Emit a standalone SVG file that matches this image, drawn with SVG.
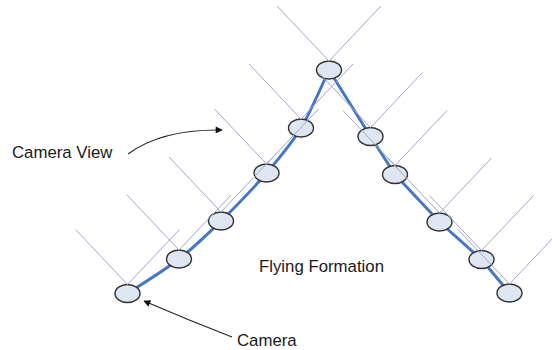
<svg xmlns="http://www.w3.org/2000/svg" width="552" height="350" viewBox="0 0 552 350">
<style>
.lbl{font-family:"Liberation Sans",Arial,sans-serif;font-size:16.8px;fill:#1a1a1a}
.node{fill:#dfe6f2;stroke:#333333;stroke-width:1.4}
.path{fill:none;stroke:#4677c6;stroke-width:3;stroke-linejoin:round;stroke-linecap:round}
.view{fill:none;stroke:#9fa6cc;stroke-width:1}
.ann{fill:none;stroke:#222;stroke-width:1.1}
</style>
<defs>
<marker id="ah" viewBox="0 0 10 10" refX="9" refY="5" markerWidth="9" markerHeight="7" markerUnits="userSpaceOnUse" orient="auto">
<path d="M0,0 L10,5 L0,10 z" fill="#111"/>
</marker>
</defs>
<rect width="552" height="350" fill="#ffffff"/>
<g id="connectors">
<path class="path" d="M127.5,293.5 C136.1,287.75 163.4,271.1 179,259 C194.6,246.9 206.4,235.3 221,221 C235.6,206.7 253.2,188.5 266.5,173 C279.8,157.5 290.6,145.2 301,128 C311.4,110.8 324.3,79.7 329,70"/>
<polyline class="path" points="329,70 370.5,136.5 395,174.5 439.5,222 481.5,259.5 509.5,293"/>
<path class="ann" d="M128,154 Q162,129 222,130" marker-end="url(#ah)"/>
<path class="ann" d="M232,337 Q188,320 144,301" marker-end="url(#ah)"/>
</g>
<g id="n-top"><ellipse class="node" cx="329" cy="70" rx="12.5" ry="9"/></g>
<g id="n-l1"><ellipse class="node" cx="301" cy="128" rx="12.5" ry="9"/></g>
<g id="n-l2"><ellipse class="node" cx="266.5" cy="173" rx="12.5" ry="9"/></g>
<g id="n-l3"><ellipse class="node" cx="221" cy="221" rx="12.5" ry="9"/></g>
<g id="n-l4"><ellipse class="node" cx="179" cy="259" rx="12.5" ry="9"/></g>
<g id="n-camera"><ellipse class="node" cx="127.5" cy="293.5" rx="12.5" ry="9"/></g>
<g id="n-r1"><ellipse class="node" cx="370.5" cy="136.5" rx="12.5" ry="9"/></g>
<g id="n-r2"><ellipse class="node" cx="395" cy="174.5" rx="12.5" ry="9"/></g>
<g id="n-r3"><ellipse class="node" cx="439.5" cy="222" rx="12.5" ry="9"/></g>
<g id="n-r4"><ellipse class="node" cx="481.5" cy="259.5" rx="12.5" ry="9"/></g>
<g id="n-r5"><ellipse class="node" cx="509.5" cy="293" rx="12.5" ry="9"/></g>
<g id="views">
<polyline class="view" points="277,6 329,61 381,6"/>
<polyline class="view" points="249,64 301,119 353,64"/>
<polyline class="view" points="214.5,109 266.5,164 318.5,109"/>
<polyline class="view" points="169,157 221,212 273,157"/>
<polyline class="view" points="127,195 179,250 231,195"/>
<polyline class="view" points="75.5,229.5 127.5,284.5 179.5,229.5"/>
<polyline class="view" points="318.5,72.5 370.5,127.5 422.5,72.5"/>
<polyline class="view" points="343,110.5 395,165.5 447,110.5"/>
<polyline class="view" points="387.5,158 439.5,213 491.5,158"/>
<polyline class="view" points="429.5,195.5 481.5,250.5 533.5,195.5"/>
<polyline class="view" points="457.5,229 509.5,284 561.5,229"/>
</g>
<text class="lbl" x="12" y="158">Camera View</text>
<text class="lbl" x="259" y="272">Flying Formation</text>
<text class="lbl" x="237" y="346">Camera</text>
</svg>
